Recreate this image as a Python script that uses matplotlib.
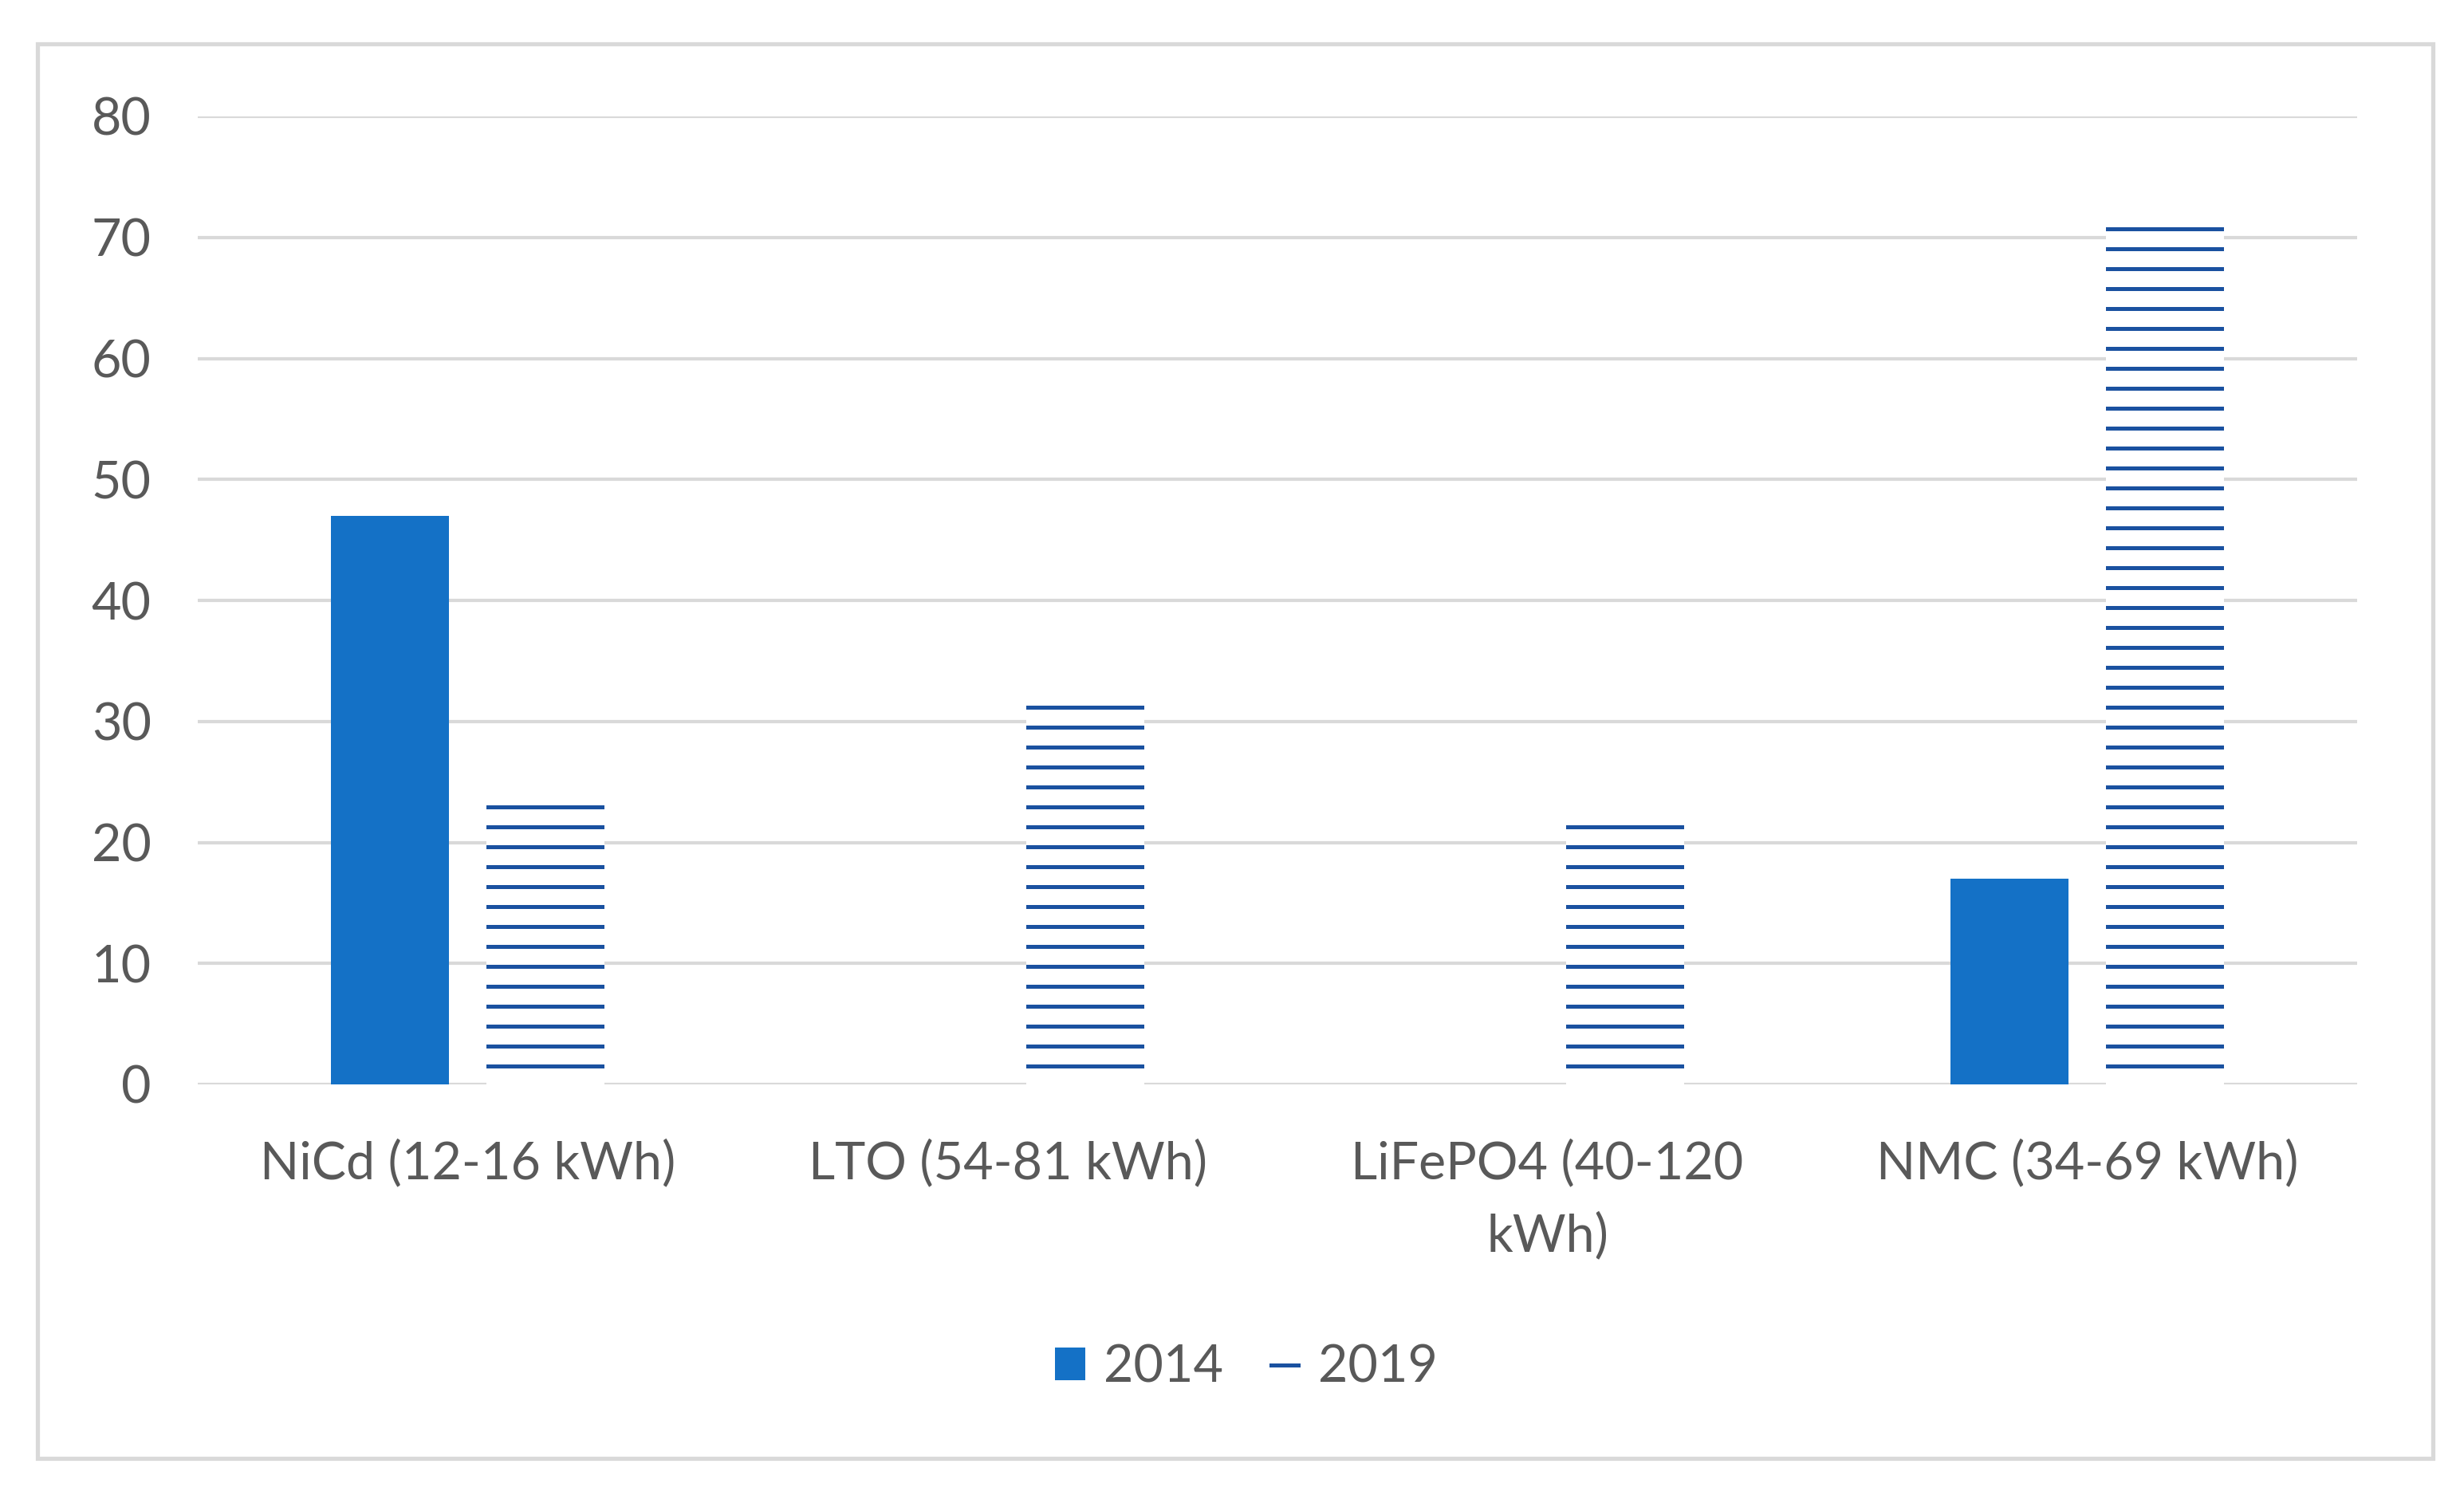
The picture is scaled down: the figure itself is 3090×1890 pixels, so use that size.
import matplotlib
matplotlib.use("Agg")
import matplotlib.pyplot as plt
from matplotlib.patches import Rectangle
import numpy as np

categories = ["NiCd (12-16 kWh)", "LTO (54-81 kWh)", "LiFePO4 (40-120\nkWh)", "NMC (34-69 kWh)"]
series_names = ["2014", "2019"]
values_2014 = [47, 0, 0, 17]
values_2019 = [24, 32, 22, 71]
yticks = [0, 10, 20, 30, 40, 50, 60, 70, 80]

plt.rcParams['font.family'] = ['Lato', 'DejaVu Sans']
plt.rcParams['hatch.linewidth'] = 2.4
plt.rcParams['hatch.color'] = '#1a51a0'

TEXT = '#595959'
GRID = '#d9d9d9'
SOLID = '#1471c6'
HATCH = '#1a51a0'
FS = 31

W, H = 3090, 1890
fig = plt.figure(figsize=(20.6, 12.6), dpi=150)
ax = fig.add_axes([248/W, 1-1360/H, (2956-248)/W, (1360-146)/H])

x = np.arange(len(categories))
w = 0.22
off = 0.144
ax.bar(x - off, values_2014, width=w, color=SOLID, zorder=3, label=series_names[0])
ax.bar(x + off, values_2019, width=w, facecolor='white', edgecolor=HATCH, linewidth=0,
       hatch='-', zorder=3, label=series_names[1])

ax.set_ylim(0, 80)
ax.set_xlim(-0.5, len(categories) - 0.5)
ax.set_yticks(yticks)
ax.set_xticks(x)
ax.set_xticklabels(categories, linespacing=1.6)
ax.yaxis.grid(True, color=GRID, linewidth=2.0, zorder=0)
ax.set_axisbelow(True)
for s in ax.spines.values():
    s.set_visible(False)
ax.tick_params(axis='both', length=0, labelsize=FS, labelcolor=TEXT)
ax.tick_params(axis='y', pad=28)
ax.tick_params(axis='x', pad=33)

fig.legend(loc='center', bbox_to_anchor=(1563/W, 1-1715/H), ncol=2, frameon=False,
           fontsize=FS, labelcolor=TEXT, handlelength=0.6, handleheight=0.6,
           handletextpad=0.35, columnspacing=0.9)

fig.patches.append(Rectangle((47/W, 1-1829/H), (3051-47)/W, (1829-55)/H,
                             transform=fig.transFigure, fill=False, edgecolor=GRID, linewidth=2.5))

fig.savefig("out.png", dpi=150, facecolor='white')
